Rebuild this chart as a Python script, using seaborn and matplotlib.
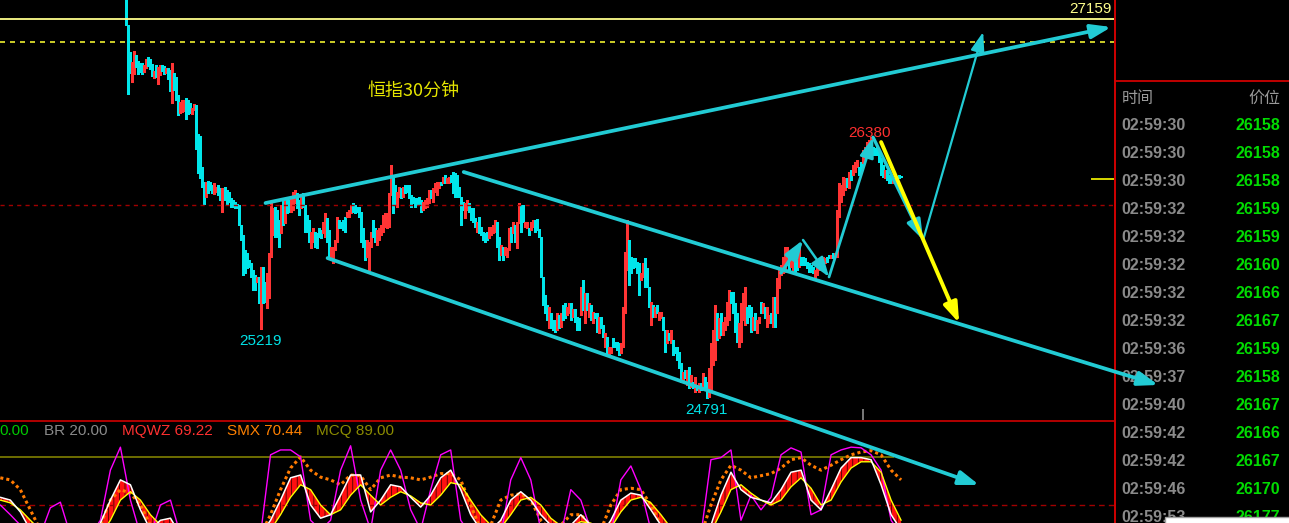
import numpy as np
import pandas as pd
import seaborn as sns
import matplotlib.pyplot as plt
from matplotlib.patches import Rectangle

# ---- HSI 30 min bars (high / low, r = up, c = down) ----
bar_hi = [
    27330, 27122, 26953, 26891, 26959, 26934, 26897, 26884, 26884, 26872,
    26909, 26922, 26909, 26878, 26834, 26872, 26859, 26872, 26872, 26866,
    26853, 26853, 26841, 26884, 26822, 26797, 26684, 26641, 26653, 26653,
    26666, 26653, 26634, 26603, 26628, 26622, 26440, 26428, 26236, 26142,
    26142, 26146, 26142, 26121, 26132, 26111, 26121, 26100, 26100, 26111,
    26090, 26080, 26038, 26028, 26017, 26000, 25996, 25871, 25809, 25715,
    25694, 25653, 25632, 25590, 25559, 25548, 25548, 25611, 25611, 25517,
    25569, 25694, 26007, 25975, 25986, 25965, 25903, 25996, 26028, 26038,
    26048, 26028, 26038, 26080, 26090, 26069, 26028, 26048, 26069, 25996,
    25934, 25903, 25830, 25850, 25830, 25819, 25850, 25840, 25892, 25944,
    25913, 25840, 25736, 25736, 25778, 25923, 25903, 25892, 25903, 25923,
    25955, 25965, 25996, 26007, 25996, 25986, 25986, 25955, 25850, 25778,
    25778, 25767, 25830, 25903, 25850, 25840, 25850, 25871, 25934, 25944,
    25944, 26069, 26246, 26173, 26121, 26080, 26111, 26100, 26111, 26121,
    26121, 26121, 26059, 26048, 26038, 26038, 26048, 26028, 26017, 26028,
    26038, 26090, 26090, 26100, 26132, 26142, 26142, 26142, 26173, 26184,
    26163, 26173, 26184, 26205, 26194, 26184, 26111, 26048, 26017, 26007,
    26028, 26007, 25975, 25975, 25913, 25892, 25923, 25861, 25830, 25819,
    25830, 25861, 25861, 25871, 25903, 25892, 25798, 25746, 25736, 25736,
    25726, 25850, 25861, 25892, 25871, 25892, 26007, 25996, 25996, 25892,
    25892, 25850, 25892, 25903, 25903, 25907, 25846, 25798, 25548, 25434,
    25371, 25361, 25319, 25278, 25278, 25319, 25309, 25319, 25371, 25382,
    25361, 25382, 25382, 25344, 25344, 25299, 25288, 25486, 25528, 25444,
    25444, 25382, 25371, 25330, 25319, 25319, 25299, 25299, 25246, 25194,
    25174, 25111, 25111, 25163, 25142, 25142, 25132, 25132, 25361, 25705,
    25903, 25778, 25673, 25663, 25663, 25642, 25632, 25569, 25632, 25663,
    25600, 25486, 25392, 25371, 25361, 25371, 25330, 25330, 25299, 25215,
    25215, 25194, 25215, 25153, 25111, 25111, 25080, 25007, 24955, 24965,
    24965, 24986, 24934, 24892, 24924, 24872, 24882, 24882, 24944, 24924,
    24892, 24976, 25132, 25215, 25371, 25319, 25288, 25319, 25267, 25299,
    25392, 25465, 25455, 25455, 25382, 25319, 25257, 25382, 25444, 25486,
    25361, 25371, 25362, 25299, 25320, 25278, 25299, 25393, 25382, 25362,
    25362, 25309, 25320, 25424, 25424, 25539, 25601, 25622, 25674, 25736,
    25736, 25705, 25695, 25726, 25695, 25653, 25726, 25674, 25674, 25664,
    25643, 25632, 25622, 25611, 25591, 25601, 25632, 25664, 25674, 25664,
    25674, 25684, 25684, 25695, 25695, 25966, 26132, 26122, 26174, 26164,
    26164, 26205, 26216, 26247, 26268, 26278, 26236, 26268, 26341, 26361,
    26393, 26403, 26424, 26361, 26351, 26361, 26341, 26289, 26247, 26216,
    26216, 26184, 26184, 26164, 26164, 26174, 26184, 26178,
]
bar_lo = [
    27124, 26693, 26824, 26768, 26818, 26861, 26818, 26830, 26818, 26830,
    26855, 26868, 26847, 26803, 26790, 26797, 26755, 26809, 26834, 26816,
    26822, 26784, 26711, 26636, 26716, 26653, 26559, 26570, 26580, 26584,
    26536, 26566, 26570, 26566, 26591, 26349, 26198, 26163, 26111, 26000,
    26048, 26069, 26090, 26069, 26063, 26080, 26059, 26028, 25955, 26028,
    25996, 26017, 25986, 25986, 25975, 25975, 25871, 25778, 25559, 25569,
    25600, 25611, 25548, 25465, 25465, 25517, 25382, 25219, 25382, 25392,
    25351, 25413, 25673, 25809, 25798, 25798, 25736, 25819, 25871, 25882,
    25944, 25955, 25955, 25965, 26007, 25975, 25934, 25975, 25986, 25830,
    25830, 25767, 25726, 25767, 25736, 25726, 25798, 25788, 25819, 25798,
    25767, 25663, 25653, 25632, 25715, 25767, 25850, 25850, 25840, 25830,
    25923, 25923, 25944, 25955, 25944, 25955, 25923, 25767, 25736, 25653,
    25673, 25590, 25736, 25798, 25767, 25746, 25778, 25809, 25830, 25861,
    25850, 25861, 26059, 25944, 25996, 25986, 26048, 26038, 26048, 26069,
    26080, 26038, 25986, 26007, 25986, 25996, 25996, 25955, 25965, 25975,
    25986, 26007, 26038, 26017, 26080, 26059, 26100, 26121, 26132, 26132,
    26132, 26132, 26142, 26069, 26048, 26048, 26048, 25871, 25965, 25913,
    25965, 25955, 25903, 25892, 25861, 25830, 25819, 25809, 25778, 25767,
    25778, 25788, 25809, 25819, 25830, 25736, 25653, 25684, 25653, 25684,
    25673, 25715, 25767, 25819, 25767, 25726, 25882, 25830, 25892, 25861,
    25850, 25809, 25840, 25861, 25830, 25840, 25798, 25548, 25371, 25319,
    25278, 25226, 25226, 25215, 25205, 25215, 25226, 25236, 25278, 25288,
    25309, 25319, 25278, 25299, 25267, 25215, 25215, 25309, 25340, 25257,
    25340, 25299, 25278, 25257, 25288, 25205, 25194, 25226, 25174, 25111,
    25069, 25059, 25069, 25111, 25111, 25090, 25059, 25069, 25111, 25319,
    25590, 25497, 25569, 25600, 25611, 25569, 25434, 25528, 25548, 25486,
    25486, 25361, 25246, 25299, 25299, 25319, 25278, 25288, 25215, 25080,
    25132, 25153, 25132, 25059, 25069, 25028, 24976, 24892, 24903, 24913,
    24872, 24851, 24861, 24851, 24830, 24840, 24830, 24840, 24851, 24840,
    24791, 24799, 24840, 24997, 25028, 25153, 25163, 25184, 25184, 25215,
    25246, 25278, 25382, 25319, 25205, 25142, 25111, 25142, 25278, 25246,
    25257, 25299, 25205, 25216, 25216, 25195, 25257, 25320, 25320, 25289,
    25237, 25257, 25257, 25237, 25237, 25320, 25476, 25559, 25570, 25580,
    25622, 25591, 25612, 25580, 25580, 25591, 25612, 25622, 25622, 25622,
    25601, 25580, 25580, 25570, 25539, 25559, 25591, 25622, 25632, 25632,
    25643, 25664, 25664, 25664, 25674, 25674, 25924, 26018, 26059, 26091,
    26111, 26101, 26153, 26184, 26205, 26236, 26184, 26216, 26257, 26288,
    26320, 26341, 26361, 26309, 26309, 26309, 26268, 26184, 26174, 26164,
    26153, 26132, 26132, 26132, 26132, 26143, 26164, 26170,
]
bar_dir = (
    "cccrrccccr" "rcccrcrrcc" "rccrcccrrr" "cccrrccccc" "rcccrrccrc"
    "cccccccccc" "cccccrcrcc" "rrrrcccrcr" "ccrrrccrcc" "ccrrccccrr"
    "ccrrrrcccc" "rrrccccccc" "rrrccrrrrr" "rrrccrrcrc" "ccccccccrr"
    "rrcrrrrcrc" "rrcccccccr" "rccccrcccc" "crrrrccrcr" "rrcrcrrccr"
    "rcrrcccccc" "crcccrcrcc" "rrcrcccrcr" "crcrccrccr" "crrccccrrr"
    "rccccccrrc" "ccrcrcrrcc" "rcrcccccrc" "rcrcrcrcrc" "crrrrcrcrr"
    "rrccccrrrr" "cccrcrrcrc" "rrcrcrrrrr" "rcrrccrccc" "ccccrrrcrr"
    "ccrcrrrrrr" "crcrrrccrr" "rrrccccccr" "cccrcrcc"
)

# price levels on the chart
level_top = 27159
level_dash = 27016
prev_close = 25997
last_price = 26159
label_low_a = "25219"
label_low_b = "24791"
label_high = "26380"
cursor_bar = 368

# hand drawn lines, (bar, price)
channel_up = [(69.5, 26009), (492, 27109)]
channel_dn_top = [(168.5, 26203), (515.5, 24872)]
channel_dn_bot = [(100.5, 25665), (426, 24247)]
zigzag = [(327, 25572), (338, 25778), (351, 25547), (373, 26420), (398, 25778)]
breakout = [(398, 25778), (428, 27078)]
yellow_path = [(377, 26390), (416, 25259)]

# sub chart oscillator, sampled every 5 bars
ind_bar = np.arange(-63, 388, 5)
ind_k = [31, 27, 10, -16, -23, -23, -23, -23, -23, -23,
         -6, 27, 56, 49, 13, -16, -2, 1, -23, -23,
         -23, -23, -23, -23, -23, -23, -23, -2, 27, 59,
         63, 20, 1, 6, 34, 63, 63, 10, 27, 49,
         46, 31, 17, 34, 59, 70, 42, 6, -16, -16,
         -2, 27, 39, 27, 6, -9, -16, -9, 6, -9,
         -23, -2, 27, 37, 34, 13, -9, -23, -23, -23,
         -23, -9, 34, 67, 42, 31, 27, 23, 42, 67,
         70, 27, 13, 42, 73, 88, 88, 85, 49, 6, -16]
ind_d = [27, 23, 13, -2, -16, -23, -23, -23, -23, -23,
         -23, -2, 27, 39, 27, 6, -9, -9, -16, -23,
         -23, -23, -23, -23, -23, -23, -23, -16, 6, 31,
         49, 42, 20, 6, 13, 34, 49, 34, 20, 31,
         39, 33, 23, 20, 34, 52, 49, 27, 6, -9,
         -13, 6, 27, 31, 20, 1, -10, -12, -4, -6,
         -16, -13, 10, 27, 31, 23, 6, -13, -23, -23,
         -23, -19, 10, 42, 49, 37, 27, 20, 27, 46,
         59, 44, 20, 27, 53, 73, 82, 82, 67, 27, -2]
ind_smx = [59, 56, 42, 13, -16, -23, -23, -23, -23, -23,
           -9, 27, 42, 37, 20, -9, -9, -9, -23, -23,
           -23, -23, -23, -23, -23, -23, -23, 6, 42, 73,
           89, 70, 60, 56, 49, 63, 62, 42, 59, 63,
           60, 59, 56, 60, 65, 65, 56, 20, -16, -9,
           27, 34, 36, 27, -2, -16, -9, 6, 6, -9,
           -16, 20, 42, 44, 42, 20, -9, -23, -23, -23,
           -23, 20, 56, 77, 70, 59, 62, 65, 73, 85,
           88, 77, 70, 77, 85, 92, 96, 98, 92, 70, 56]
ind_mag = [20, 6, -9, -23, -23, 16, 24, -23, -23, -23,
           -2, 70, 103, 27, -23, -23, 20, 27, -23, -23,
           -23, -23, -23, -23, -23, -23, -23, 92, 99, 99,
           89, -2, -16, -2, 70, 105, 27, -16, 70, 99,
           70, 13, -16, 42, 92, 99, -2, -23, -23, -23,
           -23, 56, 88, 56, -16, -23, -23, 42, 27, -16,
           -23, -23, 56, 76, 42, -16, -23, -23, -23, -23,
           -23, 85, 88, 99, -2, 34, 13, 31, 92, 102,
           96, 6, 13, 92, 99, 103, 102, 92, 70, -2, -23]
ind_br = 20
ind_mcq = 89
ind_heads = [("0.00", "#00c800"), ("BR 20.00", "#8a8a8a"), ("MQWZ 69.22", "#ff3030"),
             ("SMX 70.44", "#ff8000"), ("MCQ 89.00", "#8c8c00")]

# time & sales list
tick_time = ["02:59:30", "02:59:30", "02:59:30", "02:59:32", "02:59:32", "02:59:32",
             "02:59:32", "02:59:32", "02:59:36", "02:59:37", "02:59:40", "02:59:42",
             "02:59:42", "02:59:46", "02:59:53"]
tick_price = [26158, 26158, 26158, 26159, 26159, 26160, 26166, 26167, 26159,
              26158, 26167, 26166, 26167, 26170, 26177]

# ---------------------------------------------------------------
W, H = 1289, 523
sns.set_theme(style="dark", rc={"axes.facecolor": "black", "figure.facecolor": "black",
                                "axes.grid": False})
plt.rcParams["font.family"] = ["Liberation Sans", "Noto Sans CJK SC", "DejaVu Sans"]
plt.rcParams["hatch.linewidth"] = 0.5

fig = plt.figure(figsize=(W / 100, H / 100), dpi=100)


def box(x0, y0, x1, y1):
    return [x0 / W, 1 - y1 / H, (x1 - x0) / W, (y1 - y0) / H]


ax = fig.add_axes(box(0, 0, 1114, 420))
ax_ind = fig.add_axes(box(0, 420, 1114, 523))
ax_side = fig.add_axes(box(1114, 0, 1289, 523))
ax.set_zorder(3)
ax_ind.set_zorder(1)
ax_side.set_zorder(2)
for a in (ax, ax_ind, ax_side):
    a.set_facecolor("black")
    for s in a.spines.values():
        s.set_visible(False)

xlim = (-63.15, 493.35)
ax.set_xlim(*xlim)
ax.set_ylim(24653, 27278)

# bars
bars = pd.DataFrame({"bar": np.arange(len(bar_hi)), "hi": bar_hi, "lo": bar_lo,
                     "dir": list(bar_dir)})
colors = {"r": "#ff3434", "c": "#00e6ea"}
ax.vlines(bars["bar"], bars["lo"], bars["hi"], colors=bars["dir"].map(colors), lw=0.75,
          antialiased=False)

# levels
ax.axhline(level_top, color="#ffff8c", lw=1.3)
ax.axhline(level_dash, color="#f0f030", lw=1.2, ls=(0, (3, 3)))
ax.axhline(prev_close, color="#a00000", lw=1.0, ls=(0, (3, 3)))
ax.hlines(last_price, 482, xlim[1], color="#e8e800", lw=1.3)
ax.vlines(cursor_bar, 24653, 24722, color="#909090", lw=1.2)

num_font = dict(family=["Liberation Sans", "DejaVu Sans"])
ax.annotate(str(level_top), (492.3, level_top), xytext=(0, 2), textcoords="offset points",
            ha="right", va="bottom", color="#ffff8c", fontsize=11, **num_font)

lo_a = bars.loc[bars["lo"].iloc[:150].idxmin()]
lo_b = bars.loc[bars["lo"].idxmin()]
hi_a = bars.loc[bars["hi"].iloc[150:].idxmax()]
ax.annotate(label_low_a, (lo_a["bar"], lo_a["lo"]), xytext=(0, -3), textcoords="offset points",
            ha="center", va="top", color="#00e2e6", fontsize=11, **num_font)
ax.annotate(label_low_b, (lo_b["bar"], lo_b["lo"]), xytext=(0, -4), textcoords="offset points",
            ha="center", va="top", color="#00e2e6", fontsize=11, **num_font)
ax.annotate(label_high, (hi_a["bar"] - 1, hi_a["hi"]), xytext=(0, 2.5), textcoords="offset points",
            ha="center", va="center", color="#ff3030", fontsize=11, **num_font)

ax.text(0.3716, 0.784, "恒指30分钟", transform=ax.transAxes, ha="center", va="center",
        color="#e6e600", fontsize=13, family=["Noto Sans CJK SC", "DejaVu Sans"])

line_cyan = "#22cbd4"


def arrow(p0, p1, color=line_cyan, lw=2.5, hl=1.0, hw=0.35):
    ax.annotate("", xy=p1, xytext=p0, annotation_clip=False,
                arrowprops=dict(arrowstyle=f"-|>,head_length={hl},head_width={hw}",
                                color=color, lw=lw, shrinkA=0, shrinkB=0))


arrow(*channel_up, lw=2.7)
arrow(*channel_dn_top, lw=2.7)
arrow(*channel_dn_bot, lw=2.7)
zz_w = [2.4, 1.8, 2.0, 2.4]
for (p0, p1), w in zip(zip(zigzag[:-1], zigzag[1:]), zz_w):
    arrow(p0, p1, lw=w, hl=1.0, hw=0.35)
arrow(*breakout, lw=1.6, hl=1.0, hw=0.35)
arrow(*yellow_path, color="#ffff00", lw=2.8, hl=1.0, hw=0.35)

ax.set_xticks([])
ax.set_yticks([])

# ---- oscillator panel ----
ind = pd.DataFrame({"bar": ind_bar, "k": ind_k, "d": ind_d, "smx": ind_smx, "mag": ind_mag})
ax_ind.set_xlim(*xlim)
ax_ind.set_ylim(-5.9, 142)
ax_ind.axhline(141, color="#c00000", lw=1.3)
ax_ind.hlines(ind_mcq, xlim[0], 383.4, color="#808000", lw=1.2)
ax_ind.axhline(ind_br, color="#a00000", lw=1.0, ls=(0, (4, 3)))
ax_ind.fill_between(ind["bar"], ind["k"], ind["d"], facecolor="#ff1010",
                    edgecolor="#200000", hatch="|||", lw=0)
sns.lineplot(data=ind, x="bar", y="smx", color="#ff7a00", lw=2.2, ls=(0, (1, 1)),
             ax=ax_ind, legend=False)
sns.lineplot(data=ind, x="bar", y="mag", color="#ff00ff", lw=1.0, ax=ax_ind, legend=False)
sns.lineplot(data=ind, x="bar", y="d", color="#ffff00", lw=1.0, ax=ax_ind, legend=False)
sns.lineplot(data=ind, x="bar", y="k", color="white", lw=1.1, ax=ax_ind, legend=False)
ax_ind.set_xlabel("")
ax_ind.set_ylabel("")
ax_ind.set_xticks([])
ax_ind.set_yticks([])

head_x = [-1, 44, 122, 227, 316]
for (txt, col), hx in zip(ind_heads, head_x):
    fig.text(hx / W, 1 - 431 / H, txt, color=col, fontsize=11, ha="left", va="center",
             **num_font)

# ---- time & sales panel ----
ax_side.set_xlim(1114, 1289)
ax_side.set_ylim(523, 0)
ax_side.set_xticks([])
ax_side.set_yticks([])
ax_side.axvline(1114.8, color="#d00000", lw=1.4, clip_on=False)
ax_side.hlines(81, 1114, 1289, color="#d00000", lw=1.3)
ax_side.text(1122, 98, "时间", color="#9a9a9a", fontsize=11.5, ha="left", va="center",
             family=["Noto Sans CJK SC", "DejaVu Sans"])
ax_side.text(1280, 98, "价位", color="#9a9a9a", fontsize=11.5, ha="right", va="center",
             family=["Noto Sans CJK SC", "DejaVu Sans"])
for i, (t, p) in enumerate(zip(tick_time, tick_price)):
    y = 125 + 28 * i
    ax_side.text(1121, y, t, color="#8a8a8a", fontsize=11.5, fontweight="bold",
                 ha="left", va="center", **num_font)
    ax_side.text(1280, y, str(p), color="#00dc00", fontsize=11.5, fontweight="bold",
                 ha="right", va="center", **num_font)
ax_side.add_patch(Rectangle((1165, 517), 130, 12, facecolor="white", edgecolor="#a0a0a0",
                            lw=1, zorder=5))

fig.savefig("out.png", dpi=100, facecolor="black")
